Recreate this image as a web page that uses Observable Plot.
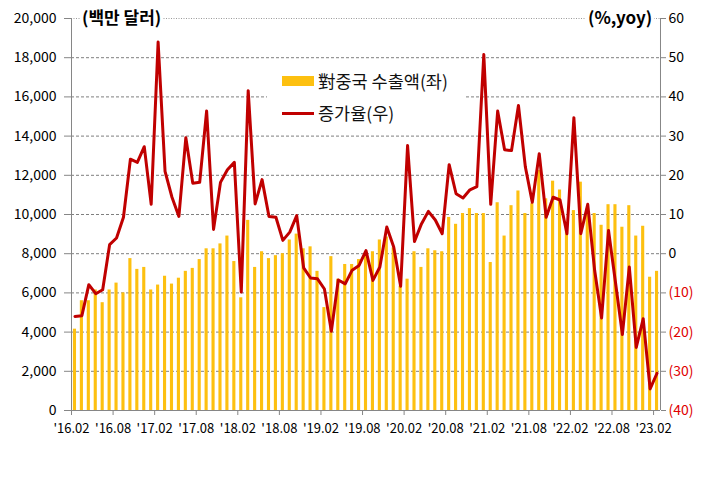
<!DOCTYPE html>
<html><head><meta charset="utf-8">
<script src="https://cdn.jsdelivr.net/npm/d3@7"></script>
<script src="https://cdn.jsdelivr.net/npm/@observablehq/plot@0.6"></script>
<style>
body{margin:0;background:#fff;}
#wrap{position:relative;width:712px;height:477px;font-family:"Noto Sans CJK KR",sans-serif;overflow:hidden;}
.ttl{position:absolute;background:#fff;font-weight:bold;font-size:17px;line-height:20px;color:#000;white-space:nowrap;padding:0 2px;}
#legend{position:absolute;left:267px;top:62px;width:197px;height:68px;background:#fff;}
.lg{position:absolute;left:51px;font-size:17.5px;line-height:22px;color:#111;white-space:nowrap;}
.sw{position:absolute;left:15px;width:32px;}
</style></head>
<body><div id="wrap"></div>
<script>
const months = [
"16.02","16.03","16.04","16.05","16.06","16.07","16.08","16.09","16.10","16.11","16.12",
"17.01","17.02","17.03","17.04","17.05","17.06","17.07","17.08","17.09","17.10","17.11","17.12",
"18.01","18.02","18.03","18.04","18.05","18.06","18.07","18.08","18.09","18.10","18.11","18.12",
"19.01","19.02","19.03","19.04","19.05","19.06","19.07","19.08","19.09","19.10","19.11","19.12",
"20.01","20.02","20.03","20.04","20.05","20.06","20.07","20.08","20.09","20.10","20.11","20.12",
"21.01","21.02","21.03","21.04","21.05","21.06","21.07","21.08","21.09","21.10","21.11","21.12",
"22.01","22.02","22.03","22.04","22.05","22.06","22.07","22.08","22.09","22.10","22.11","22.12",
"23.01","23.02"];
// 對중국 수출액 (백만 달러)
const exportsChina = [
4150,5600,5600,6150,5500,6150,6500,6000,7750,7200,7300,
6150,6400,6850,6450,6750,7100,7250,7700,8250,8250,8500,8900,
7600,5750,9700,7300,8100,7750,7900,8000,8700,9000,8250,8350,
7100,5250,7850,6700,7450,7450,7700,7900,8100,8700,8850,8300,
6350,6700,8100,7300,8250,8150,8100,9850,9500,10050,10300,10050,
10050,7550,10600,8900,10450,11200,10050,10550,12250,10800,11700,11250,
9300,10200,11650,10300,10050,9450,10500,10500,9350,10450,8900,9400,
6800,7100];
// 증가율 (%, yoy)
const growthRate = [
-16,-15.8,-7.9,-10.2,-9.2,2.3,4.0,9.3,24.1,23.3,27.3,
12.6,54.0,21.0,14.4,9.5,29.6,18.0,18.2,36.4,6.2,18.2,21.4,
23.3,-9.8,41.6,12.7,18.9,9.5,9.3,3.4,5.5,9.7,-3.6,-6.2,
-6.4,-9.0,-19.8,-6.7,-7.7,-4.2,-3.0,0.8,-6.8,-3.4,6.8,1.7,
-8.3,27.6,3.1,7.6,10.8,8.6,5.1,22.7,15.3,14.2,16.3,17.1,
50.8,12.6,36.4,26.5,26.3,37.8,22.1,13.1,25.5,9.3,14.4,13.7,
5.1,34.7,5.1,12.6,-4.3,-16.4,5.9,-7.3,-20.6,-3.4,-23.9,-16.6,
-34.5,-30.5];
const leftTicks = [0,2000,4000,6000,8000,10000,12000,14000,16000,18000,20000];
const rightTicksPos = [0,10,20,30,40,50,60];
const rightTicksNeg = [-10,-20,-30,-40];
const xTicks = ["16.02","16.08","17.02","17.08","18.02","18.08","19.02","19.08","20.02","20.08","21.02","21.08","22.02","22.08","23.02"];

const rightMin = -40, rightMax = 60, leftMax = 20000;
const toLeft = p => (p - rightMin) * leftMax / (rightMax - rightMin);
const fromLeft = v => v * (rightMax - rightMin) / leftMax + rightMin;
const fmtRight = v => { const p = Math.round(fromLeft(v)); return p < 0 ? `(${-p})` : `${p}`; };

const data = months.map((m, i) => ({m, v: exportsChina[i], g: growthRate[i]}));
const half = 3.46;

const chart = Plot.plot({
  width: 712, height: 477,
  marginTop: 18, marginBottom: 67, marginLeft: 71, marginRight: 52,
  style: {fontFamily: "'Noto Sans CJK KR', sans-serif", fontSize: "14px", background: "#fff", color: "#000", overflow: "visible"},
  x: {type: "band", domain: months, paddingInner: 0.55, paddingOuter: 0.275, axis: null},
  y: {domain: [0, leftMax], axis: null},
  marks: [
    Plot.ruleY(leftTicks.filter(t => t > 0 && t < leftMax), {stroke: "#7f7f7f", strokeWidth: 1, strokeDasharray: "3,2"}),
    Plot.ruleY([leftMax], {stroke: "#9a9a9a", strokeWidth: 1, strokeDasharray: "1,1.5"}),
    Plot.barY(data, {x: "m", y: "v", fill: "#FDC010"}),
    Plot.lineY(data, {x: "m", y: d => toLeft(d.g), stroke: "#C00000", strokeWidth: 3, strokeLinejoin: "round"}),
    Plot.ruleY([0], {stroke: "#868686"}),
    Plot.ruleX([months[0]], {dx: -half, stroke: "#868686"}),
    Plot.ruleX([months[months.length - 1]], {dx: half, stroke: "#868686"}),
    Plot.axisY(leftTicks, {anchor: "left", tickSize: 7, tickPadding: 8, tickFormat: d3.format(","), stroke: "#868686", fill: "#000", label: null, fontSize: 14}),
    Plot.axisY(rightTicksPos.map(toLeft), {anchor: "right", tickSize: 5, tickPadding: 3, tickFormat: fmtRight, stroke: "#868686", fill: "#000", label: null, fontSize: 14}),
    Plot.axisY(rightTicksNeg.map(toLeft), {anchor: "right", tickSize: 5, tickPadding: 3, tickFormat: fmtRight, stroke: "#868686", fill: "#E00000", label: null, fontSize: 14}),
    Plot.axisX(xTicks, {anchor: "bottom", dx: -half, tickSize: 5, tickPadding: 8, tickFormat: d => "'" + d, stroke: "#868686", fill: "#000", label: null, fontSize: 13})
  ]
});

const wrap = document.getElementById("wrap");
wrap.appendChild(chart);

const t1 = document.createElement("div");
t1.className = "ttl"; t1.textContent = "(백만 달러)";
t1.style.left = "80px"; t1.style.top = "7px";
wrap.appendChild(t1);
const t2 = document.createElement("div");
t2.className = "ttl"; t2.textContent = "(%,yoy)";
t2.style.left = "586px"; t2.style.top = "7px";
wrap.appendChild(t2);

const lg = document.createElement("div");
lg.id = "legend";
lg.innerHTML = `<div class="sw" style="top:14px;height:10px;background:#FDC010"></div>
<div class="lg" style="top:8px">對중국 수출액(좌)</div>
<div class="sw" style="top:50px;height:3px;background:#C00000"></div>
<div class="lg" style="top:40px">증가율(우)</div>`;
wrap.appendChild(lg);
</script>
</body></html>
